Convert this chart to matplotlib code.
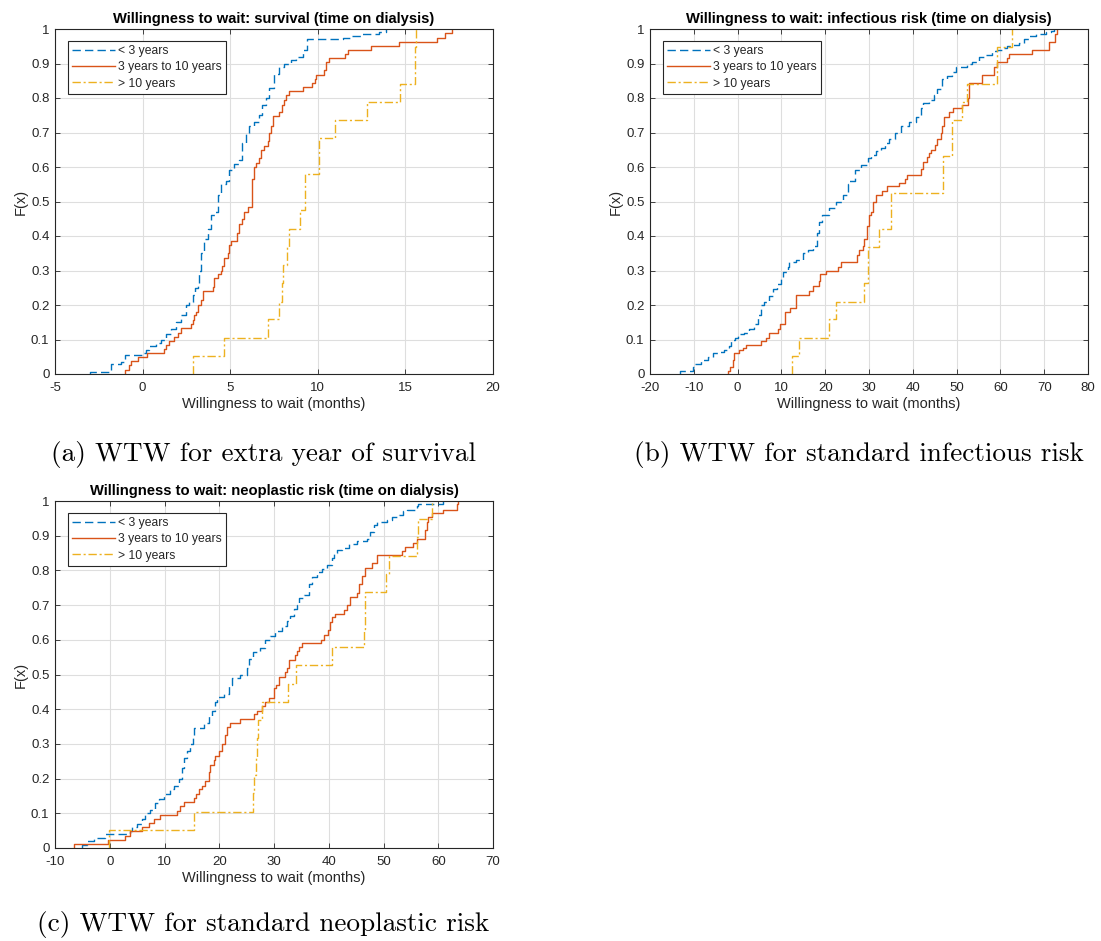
import numpy as np
import matplotlib
matplotlib.use("Agg")
import matplotlib.pyplot as plt

# ECDF curves, willingness to wait by time on dialysis
# each series: x = jump positions, F = value after the jump

labels = ["< 3 years", "3 years to 10 years", "> 10 years"]

# (a) survival
a_lt3_x = [-2.98, -1.81, -1.24, -0.99, 0.0, 0.19, 0.38, 0.76, 1.05, 1.33, 1.62, 1.90, 2.19, 2.47,
           2.66, 2.85, 2.98, 3.14, 3.23, 3.33, 3.52, 3.71, 3.90, 4.14, 4.28, 4.47, 4.75, 4.94,
           5.23, 5.48, 5.70, 5.89, 6.08, 6.37, 6.65, 6.84, 7.07, 7.22, 7.51, 7.79, 8.08, 8.46,
           8.75, 9.13, 9.41, 11.41, 11.88, 12.55, 13.50, 13.88]
a_lt3_F = [0.007, 0.028, 0.035, 0.055, 0.06, 0.07, 0.08, 0.09, 0.10, 0.115, 0.13, 0.15, 0.17, 0.20,
           0.21, 0.23, 0.25, 0.26, 0.30, 0.35, 0.39, 0.42, 0.46, 0.47, 0.52, 0.55, 0.56, 0.59,
           0.61, 0.62, 0.67, 0.70, 0.72, 0.73, 0.75, 0.78, 0.80, 0.83, 0.87, 0.89, 0.90, 0.91,
           0.92, 0.94, 0.97, 0.975, 0.98, 0.985, 0.99, 1.0]
a_mid_x = [-1.01, -0.80, -0.67, -0.29, 0.23, 1.24, 1.33, 1.48, 1.81, 2.00, 2.19, 2.76, 2.85, 2.95,
           3.04, 3.18, 3.33, 3.46, 4.03, 4.09, 4.33, 4.47, 4.52, 4.66, 4.85, 4.94, 5.04, 5.36,
           5.51, 5.66, 5.80, 5.99, 6.24, 6.27, 6.37, 6.50, 6.65, 6.75, 6.94, 7.13, 7.22, 7.32,
           7.45, 7.79, 7.95, 8.08, 8.18, 8.37, 9.13, 9.66, 9.85, 9.92, 10.36, 10.46, 10.65,
           11.56, 11.75, 13.02, 14.64, 16.83, 17.26, 17.68]
a_mid_F = [0.012, 0.025, 0.037, 0.048, 0.06, 0.072, 0.085, 0.097, 0.108, 0.12, 0.133, 0.145, 0.157,
           0.17, 0.18, 0.20, 0.215, 0.24, 0.253, 0.277, 0.29, 0.30, 0.313, 0.337, 0.35, 0.375,
           0.386, 0.41, 0.435, 0.45, 0.47, 0.483, 0.53, 0.565, 0.60, 0.612, 0.625, 0.65, 0.66,
           0.675, 0.70, 0.72, 0.747, 0.76, 0.78, 0.795, 0.81, 0.82, 0.832, 0.844, 0.855, 0.867,
           0.88, 0.905, 0.915, 0.927, 0.94, 0.95, 0.963, 0.975, 0.988, 1.0]
a_gt10_x = [2.85, 4.62, 7.17, 7.76, 7.95, 8.02, 8.27, 8.37, 8.97, 9.28, 10.08, 10.99, 12.79, 14.68,
            15.55, 15.63]
a_gt10_F = [0.053, 0.105, 0.158, 0.21, 0.263, 0.316, 0.368, 0.421, 0.474, 0.579, 0.684, 0.737,
            0.789, 0.842, 0.947, 1.0]

# (b) infectious risk
b_lt3_x = [-13.08, -10.27, -9.89, -8.37, -6.84, -5.70, -4.56, -3.04, -2.05, -1.52, -0.61, 0.0, 1.52,
           2.66, 3.80, 4.56, 5.32, 6.08, 7.07, 8.14, 8.90, 9.89, 10.42, 11.56, 11.79, 13.31, 14.83,
           15.97, 17.11, 18.10, 18.48, 19.24, 20.91, 22.43, 24.11, 25.10, 25.48, 26.84, 28.14,
           29.66, 30.42, 31.56, 32.70, 33.69, 34.60, 35.97, 37.26, 39.16, 40.68, 41.83, 42.36,
           43.73, 44.87, 45.63, 46.62, 47.91, 48.90, 49.81, 52.47, 53.61, 55.13, 56.27, 58.17,
           59.16, 60.30, 61.60, 62.74, 64.26, 65.40, 66.54, 68.06, 70.34, 71.48, 72.24]
b_lt3_F = [0.01, 0.02, 0.03, 0.04, 0.05, 0.06, 0.065, 0.07, 0.08, 0.10, 0.105, 0.115, 0.12, 0.13,
           0.145, 0.17, 0.20, 0.21, 0.225, 0.245, 0.26, 0.275, 0.295, 0.31, 0.325, 0.33, 0.35,
           0.36, 0.37, 0.41, 0.44, 0.46, 0.48, 0.50, 0.52, 0.55, 0.56, 0.59, 0.605, 0.625, 0.635,
           0.645, 0.655, 0.67, 0.68, 0.70, 0.72, 0.73, 0.745, 0.77, 0.785, 0.795, 0.81, 0.825,
           0.855, 0.865, 0.875, 0.89, 0.90, 0.905, 0.92, 0.925, 0.935, 0.94, 0.945, 0.95, 0.955,
           0.96, 0.97, 0.98, 0.985, 0.99, 0.995, 1.0]
b_mid_x = [-2.28, -1.67, -1.14, -0.76, 0.38, 1.14, 1.90, 5.32, 6.46, 7.22, 9.13, 9.66, 10.87, 12.02,
           13.31, 16.20, 17.11, 18.48, 18.78, 20.15, 22.81, 23.57, 27.15, 27.76, 28.52, 28.90,
           29.51, 29.89, 30.42, 30.95, 31.56, 33.08, 34.22, 36.88, 38.25, 38.78, 41.83, 42.36,
           43.35, 43.73, 44.11, 45.10, 45.63, 46.39, 46.77, 47.15, 48.29, 49.20, 51.33, 52.70,
           52.85, 55.74, 55.89, 58.56, 59.32, 61.44, 61.98, 67.30, 71.10, 72.47, 73.00]
b_mid_F = [0.01, 0.02, 0.04, 0.06, 0.07, 0.075, 0.085, 0.095, 0.105, 0.12, 0.13, 0.145, 0.18, 0.19,
           0.23, 0.24, 0.255, 0.27, 0.29, 0.30, 0.31, 0.325, 0.345, 0.36, 0.37, 0.39, 0.43, 0.46,
           0.47, 0.50, 0.52, 0.53, 0.545, 0.555, 0.565, 0.578, 0.595, 0.615, 0.63, 0.64, 0.65,
           0.665, 0.68, 0.70, 0.72, 0.745, 0.76, 0.77, 0.78, 0.80, 0.843, 0.855, 0.868, 0.89,
           0.905, 0.915, 0.928, 0.94, 0.963, 0.985, 1.0]
b_gt10_x = [12.40, 13.92, 20.76, 22.43, 28.90, 29.66, 32.32, 34.98, 47.00, 48.90, 51.33, 52.32,
            59.32, 62.74]
b_gt10_F = [0.053, 0.105, 0.158, 0.21, 0.263, 0.368, 0.421, 0.526, 0.632, 0.737, 0.789, 0.842,
            0.947, 1.0]

# (c) neoplastic risk
c_lt3_x = [-5.05, -4.14, -2.92, -0.79, 3.77, 4.08, 4.99, 5.90, 6.51, 7.42, 8.33, 8.94, 9.85, 11.07,
           11.68, 12.59, 13.20, 13.50, 14.11, 14.60, 15.21, 15.45, 17.15, 18.07, 18.67, 19.28,
           19.59, 20.80, 21.72, 22.32, 23.84, 25.06, 25.36, 26.16, 27.49, 28.41, 29.32, 30.23,
           31.45, 32.36, 32.97, 33.58, 34.18, 34.49, 35.40, 36.31, 36.92, 37.83, 38.75, 39.66,
           40.57, 41.00, 41.48, 42.40, 43.61, 45.13, 46.96, 47.57, 48.18, 48.78, 50.61, 51.52,
           52.74, 53.65, 54.26, 56.08, 56.39, 60.95]
c_lt3_F = [0.01, 0.02, 0.03, 0.04, 0.05, 0.06, 0.07, 0.085, 0.10, 0.11, 0.13, 0.14, 0.155, 0.17,
           0.18, 0.20, 0.23, 0.26, 0.28, 0.30, 0.32, 0.345, 0.36, 0.38, 0.395, 0.42, 0.435, 0.445,
           0.47, 0.49, 0.50, 0.52, 0.545, 0.565, 0.575, 0.60, 0.61, 0.625, 0.64, 0.655, 0.67,
           0.69, 0.70, 0.72, 0.73, 0.76, 0.78, 0.795, 0.805, 0.815, 0.835, 0.85, 0.86, 0.865,
           0.875, 0.885, 0.89, 0.91, 0.93, 0.94, 0.945, 0.955, 0.96, 0.97, 0.975, 0.985, 0.99, 1.0]
c_mid_x = [-6.45, -0.36, 2.74, 3.77, 5.90, 7.12, 8.03, 9.25, 12.29, 12.77, 13.50, 15.33, 15.75,
           16.24, 16.85, 17.46, 18.07, 18.37, 18.98, 19.28, 19.89, 20.50, 20.99, 21.41, 22.02,
           23.84, 26.28, 26.89, 27.80, 28.41, 29.01, 29.93, 30.41, 30.84, 32.06, 32.36, 32.66,
           33.88, 34.18, 34.49, 35.10, 38.56, 39.05, 39.84, 40.15, 40.57, 41.18, 42.70, 43.31,
           43.92, 45.13, 45.44, 46.05, 46.53, 46.65, 47.87, 48.78, 53.35, 53.95, 55.47, 56.08,
           57.60, 57.91, 58.21, 58.82, 60.95, 63.38, 63.69]
c_mid_F = [0.012, 0.024, 0.036, 0.048, 0.06, 0.072, 0.084, 0.096, 0.108, 0.12, 0.133, 0.145, 0.157,
           0.17, 0.18, 0.193, 0.22, 0.24, 0.253, 0.265, 0.28, 0.30, 0.325, 0.35, 0.36, 0.372,
           0.385, 0.396, 0.41, 0.42, 0.433, 0.46, 0.47, 0.494, 0.506, 0.518, 0.542, 0.555, 0.567,
           0.58, 0.59, 0.60, 0.613, 0.627, 0.65, 0.665, 0.675, 0.685, 0.70, 0.723, 0.735, 0.76,
           0.783, 0.795, 0.807, 0.82, 0.843, 0.855, 0.867, 0.88, 0.89, 0.915, 0.94, 0.955, 0.965,
           0.975, 0.99, 1.0]
c_gt10_x = [-0.12, 15.45, 26.16, 26.40, 26.65, 26.89, 27.00, 27.80, 32.48, 34.06, 40.57, 46.35,
            46.65, 50.49, 50.92, 56.08, 56.39, 58.82]
c_gt10_F = [0.053, 0.105, 0.158, 0.21, 0.263, 0.316, 0.368, 0.421, 0.474, 0.526, 0.579, 0.632,
            0.737, 0.789, 0.842, 0.895, 0.947, 1.0]

panels = [
    ("Willingness to wait: survival (time on dialysis)", (-5, 20), np.arange(-5, 21, 5),
     [(a_lt3_x, a_lt3_F), (a_mid_x, a_mid_F), (a_gt10_x, a_gt10_F)]),
    ("Willingness to wait: infectious risk (time on dialysis)", (-20, 80), np.arange(-20, 81, 10),
     [(b_lt3_x, b_lt3_F), (b_mid_x, b_mid_F), (b_gt10_x, b_gt10_F)]),
    ("Willingness to wait: neoplastic risk (time on dialysis)", (-10, 70), np.arange(-10, 71, 10),
     [(c_lt3_x, c_lt3_F), (c_mid_x, c_mid_F), (c_gt10_x, c_gt10_F)]),
]
captions = ["(a) WTW for extra year of survival", "(b) WTW for standard infectious risk",
            "(c) WTW for standard neoplastic risk"]

colors = ["#0072BD", "#D95319", "#EDB120"]
styles = [(0, (6, 3)), "-", (0, (6, 2, 1.5, 2))]
axcol = "#262626"

plt.rcParams['font.family'] = ['Liberation Sans', 'DejaVu Sans']

W, H = 1101, 941
fig = plt.figure(figsize=(W / 100, H / 100), dpi=100)

# axes boxes in pixels: left, top, right, bottom
boxes = [(55, 29, 493, 374), (650, 29, 1088, 374), (55, 501, 493, 848)]

for (title, xlim, xt, series), (l, t, r, b) in zip(panels, boxes):
    ax = fig.add_axes([l / W, 1 - b / H, (r - l) / W, (b - t) / H])
    for (x, F), c, ls, lab in zip(series, colors, styles, labels):
        xs = [x[0]] + list(x)
        ys = [0] + list(F)
        ax.step(xs, ys, where='post', color=c, ls=ls, lw=1.0, label=lab)
    ax.set_xlim(xlim)
    ax.set_ylim(0, 1)
    ax.set_xticks(xt)
    ax.set_xticklabels([str(v) for v in xt])
    yt = np.round(np.arange(0, 1.01, 0.1), 1)
    ax.set_yticks(yt)
    ax.set_yticklabels(["0" if v == 0 else ("1" if v == 1 else "%g" % v) for v in yt])
    ax.grid(True, color="#dedede", lw=0.8)
    ax.set_axisbelow(True)
    ax.tick_params(direction='in', top=True, right=True, length=3.5, width=0.6,
                   colors=axcol, labelsize=9.5)
    ax.tick_params(axis='x', pad=6)
    ax.tick_params(axis='y', pad=4)
    for s in ax.spines.values():
        s.set_color(axcol)
        s.set_linewidth(0.8)
    ax.set_title(title, fontsize=10.6, fontweight='bold', pad=4)
    ax.set_xlabel("Willingness to wait (months)", fontsize=10.5, color=axcol, labelpad=2)
    ax.set_ylabel("F(x)", fontsize=10.5, color=axcol, labelpad=2)
    leg = ax.legend(loc='upper left', bbox_to_anchor=(13 / (r - l), 1 - 12 / (b - t)),
                    borderaxespad=0, fontsize=8.7, handlelength=3.5, handletextpad=0.3,
                    labelspacing=0.35, borderpad=0.35, fancybox=False, framealpha=1)
    leg.get_frame().set_edgecolor(axcol)
    leg.get_frame().set_linewidth(0.8)
    for txt in leg.get_texts():
        txt.set_color(axcol)

cap_pos = [(263.5, 455), (859, 455), (263.5, 925)]
for (cx, cy), cap in zip(cap_pos, captions):
    fig.text(cx / W, 1 - cy / H, cap, family='cmr10', fontsize=19.6, ha='center', va='center')

fig.savefig("out.png", dpi=100)
